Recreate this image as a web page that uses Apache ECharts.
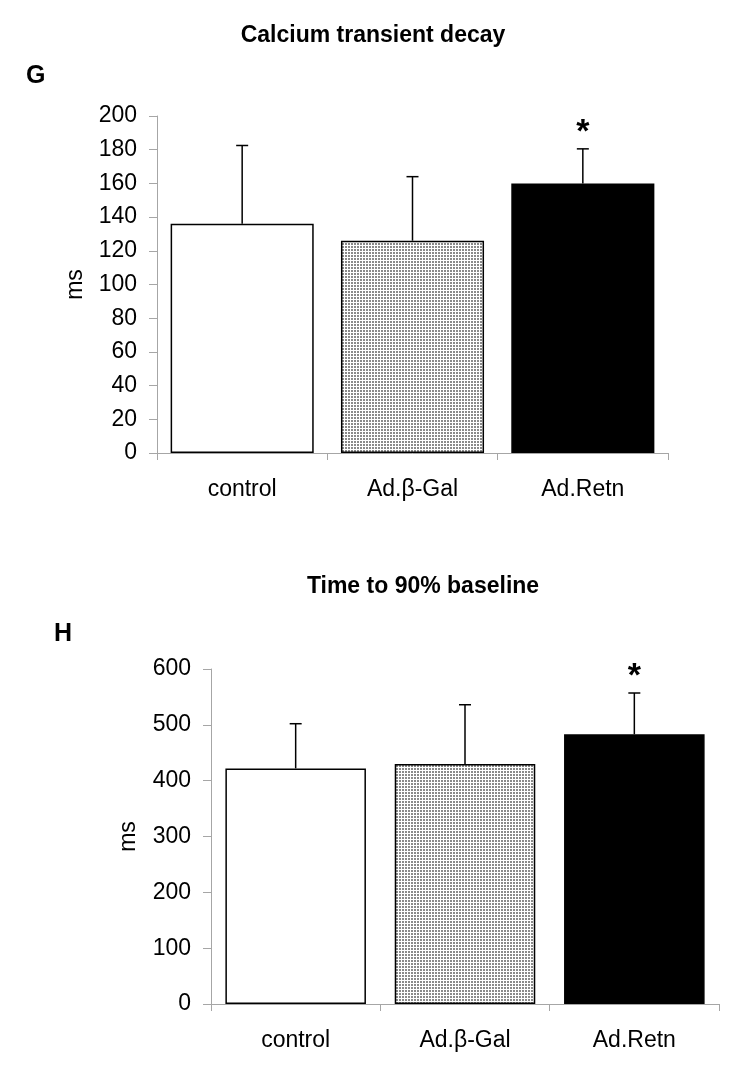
<!DOCTYPE html>
<html><head><meta charset="utf-8">
<script src="https://cdn.jsdelivr.net/npm/echarts@6/dist/echarts.min.js"></script>
<style>html,body{margin:0;padding:0;background:#fff}#c{width:750px;height:1072px}</style>
</head><body><div id="c"></div>
<script>
const categories = ['control', 'Ad.β-Gal', 'Ad.Retn'];
const decayMeans = [136, 126, 160];
const decayErrors = [46.5, 38, 20.5];
const decaySig = ['', '', '*'];
const baselineMeans = [422, 430, 483];
const baselineErrors = [80, 106, 74];
const baselineSig = ['', '', '*'];
const titleG = 'Calcium transient decay';
const titleH = 'Time to 90% baseline';

function makePattern() {
  const c = document.createElement('canvas');
  c.width = 3; c.height = 3;
  const ctx = c.getContext('2d');
  ctx.fillStyle = '#ffffff'; ctx.fillRect(0, 0, 3, 3);
  ctx.fillStyle = '#8a8a8a'; ctx.fillRect(0, 0, 2, 2);
  return c;
}
const pattern = { image: makePattern(), repeat: 'repeat' };
const barFills = ['#ffffff', pattern, '#000000'];
const FONT = '"Liberation Sans", Arial, sans-serif';

function barData(means) {
  return means.map((v, i) => ({ value: v, itemStyle: { color: barFills[i] } }));
}
function errData(means, errs, sig) {
  return means.map((v, i) => [i, v, errs[i], sig[i]]);
}
function errRender(params, api) {
  const x = api.value(0), v = api.value(1), e = api.value(2);
  const s = api.value(3);
  const p0 = api.coord([x, v]);
  const p1 = api.coord([x, v + e]);
  const children = [
    { type: 'line', shape: { x1: p0[0], y1: p0[1], x2: p1[0], y2: p1[1] }, style: { stroke: '#000', lineWidth: 1.5 } },
    { type: 'line', shape: { x1: p1[0] - 6, y1: p1[1], x2: p1[0] + 6, y2: p1[1] }, style: { stroke: '#000', lineWidth: 1.5 } }
  ];
  if (s) {
    children.push({ type: 'text', x: p1[0], y: p1[1] + 1, style: { text: s, fontSize: 34, fontWeight: 'bold', fontFamily: FONT, fill: '#000', align: 'center', verticalAlign: 'bottom' } });
  }
  return { type: 'group', children };
}

const axisGray = '#a6a6a6';
function xAxis(gi) {
  return {
    type: 'category', gridIndex: gi, data: categories,
    axisLine: { lineStyle: { color: axisGray, width: 1 } },
    axisTick: { show: true, length: 7, lineStyle: { color: axisGray }, alignWithLabel: false },
    axisLabel: { color: '#000', fontSize: 23, fontFamily: FONT, margin: 25 }
  };
}
function yAxis(gi, max, interval, nameGap) {
  return {
    type: 'value', gridIndex: gi, min: 0, max, interval,
    name: 'ms', nameLocation: 'middle', nameRotate: 90, nameGap,
    nameTextStyle: { color: '#000', fontSize: 23, fontFamily: FONT },
    axisLine: { show: true, lineStyle: { color: axisGray, width: 1 } },
    axisTick: { show: true, length: 8, lineStyle: { color: axisGray } },
    axisLabel: { color: '#000', fontSize: 23, fontFamily: FONT, margin: 20 },
    splitLine: { show: false }
  };
}

const chart = echarts.init(document.getElementById('c'), null, { renderer: 'canvas' });
chart.setOption({
  backgroundColor: '#fff',
  animation: false,
  graphic: [
    { type: 'text', x: 373, y: 36, style: { text: titleG, fontSize: 23, fontWeight: 'bold', fontFamily: FONT, fill: '#000', align: 'center', verticalAlign: 'middle' } },
    { type: 'text', x: 26, y: 76, style: { text: 'G', fontSize: 25, fontWeight: 'bold', fontFamily: FONT, fill: '#000', align: 'left', verticalAlign: 'middle' } },
    { type: 'text', x: 423, y: 587, style: { text: titleH, fontSize: 23, fontWeight: 'bold', fontFamily: FONT, fill: '#000', align: 'center', verticalAlign: 'middle' } },
    { type: 'text', x: 54, y: 634, style: { text: 'H', fontSize: 25, fontWeight: 'bold', fontFamily: FONT, fill: '#000', align: 'left', verticalAlign: 'middle' } }
  ],
  grid: [
    { left: 157, width: 511, top: 116, height: 337 },
    { left: 211, width: 508, top: 669, height: 335 }
  ],
  xAxis: [xAxis(0), xAxis(1)],
  yAxis: [yAxis(0, 200, 20, 70), yAxis(1, 600, 100, 71)],
  series: [
    { type: 'bar', xAxisIndex: 0, yAxisIndex: 0, data: barData(decayMeans), barWidth: '84%',
      itemStyle: { borderColor: '#000', borderWidth: 1.5 } },
    { type: 'custom', xAxisIndex: 0, yAxisIndex: 0, data: errData(decayMeans, decayErrors, decaySig), renderItem: errRender, z: 5 },
    { type: 'bar', xAxisIndex: 1, yAxisIndex: 1, data: barData(baselineMeans), barWidth: '83%',
      itemStyle: { borderColor: '#000', borderWidth: 1.5 } },
    { type: 'custom', xAxisIndex: 1, yAxisIndex: 1, data: errData(baselineMeans, baselineErrors, baselineSig), renderItem: errRender, z: 5 }
  ]
});
</script></body></html>
